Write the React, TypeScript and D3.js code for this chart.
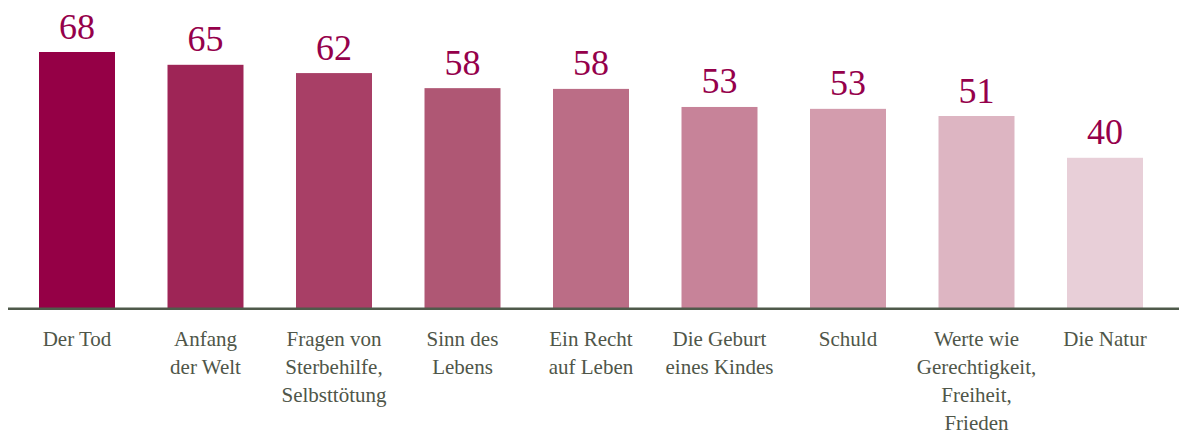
import React from "react";
import * as d3 from "d3";

const categories: string[][] = [
  ["Der Tod"],
  ["Anfang", "der Welt"],
  ["Fragen von", "Sterbehilfe,", "Selbsttötung"],
  ["Sinn des", "Lebens"],
  ["Ein Recht", "auf Leben"],
  ["Die Geburt", "eines Kindes"],
  ["Schuld"],
  ["Werte wie", "Gerechtigkeit,", "Freiheit,", "Frieden"],
  ["Die Natur"],
];
const values: number[] = [68, 64.6, 62.4, 58.4, 58.2, 53.4, 52.9, 51.0, 39.9];
const barColors: string[] = [
  "#950046", "#9e2556", "#a83f66", "#af5774", "#bb6d86",
  "#c78399", "#d39cad", "#ddb5c2", "#e8cfd8",
];

const W = 1179;
const H = 434;
const baseY = 308;
const FONT = "'Liberation Serif', 'Times New Roman', serif";

export default function App() {
  const ids = categories.map((_, i) => String(i));
  const x = d3
    .scaleBand<string>()
    .domain(ids)
    .range([12.75, 1169.25])
    .paddingInner(0.4086)
    .paddingOuter(0.2043);
  const y = d3.scaleLinear().domain([0, 68]).range([baseY, 52]);
  const fmt = d3.format(".0f");

  return (
    <svg
      width={W}
      height={H}
      style={{ position: "absolute", left: 0, top: 0, background: "#fff" }}
    >
      {values.map((v, i) => {
        const bx = x(String(i))!;
        return (
          <g key={i}>
            <rect
              x={bx}
              y={y(v)}
              width={x.bandwidth()}
              height={baseY - y(v)}
              fill={barColors[i]}
            />
            <text
              x={bx + x.bandwidth() / 2}
              y={y(v) - 13.5}
              textAnchor="middle"
              fontFamily={FONT}
              fontSize={36}
              fill="#95004b"
            >
              {fmt(v)}
            </text>
            {categories[i].map((line, j) => (
              <text
                key={j}
                x={bx + x.bandwidth() / 2}
                y={345.5 + j * 28.1}
                textAnchor="middle"
                fontFamily={FONT}
                fontSize={21}
                fill="#4f5649"
              >
                {line}
              </text>
            ))}
          </g>
        );
      })}
      <line x1={8} x2={W} y1={308.8} y2={308.8} stroke="#4f5a4b" strokeWidth={2.5} />
    </svg>
  );
}
